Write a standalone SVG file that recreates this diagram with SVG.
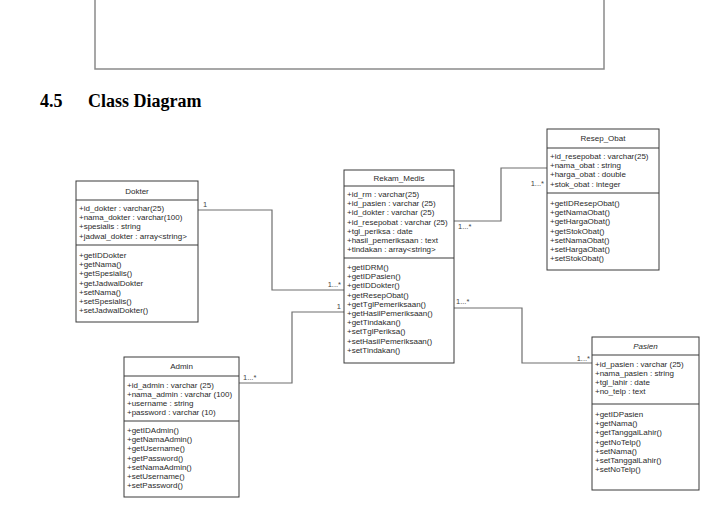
<svg xmlns="http://www.w3.org/2000/svg" width="717" height="522" viewBox="0 0 717 522">
<style>
.box{fill:#fff;stroke:#3a3a3a;stroke-width:1}
.div{stroke:#3a3a3a;stroke-width:1}
.t{font-family:"Liberation Sans",Arial,sans-serif;font-size:8px;fill:#2a2a2a}
.ttl{font-family:"Liberation Sans",Arial,sans-serif;font-size:8px;fill:#2a2a2a;text-anchor:middle}
.lbl{font-family:"Liberation Sans",Arial,sans-serif;font-size:7.5px;fill:#444}
.edge{fill:none;stroke:#6e6e6e;stroke-width:1.2}
.head{font-family:"Liberation Serif","Times New Roman",serif;font-size:18px;font-weight:bold;fill:#000}
</style>
<rect width="717" height="522" fill="#fff"/>
<rect x="95" y="-5" width="509" height="74" fill="none" stroke="#8a8a8a" stroke-width="1.5"/>
<text class="head" x="40" y="107">4.5</text>
<text class="head" x="88" y="107">Class Diagram</text>

<g id="connectors">
<polyline class="edge" points="198,210 272,210 272,290 344,290"/>
<text class="lbl" x="203" y="207">1</text>
<text class="lbl" x="341" y="287" text-anchor="end">1...*</text>
<polyline class="edge" points="239,383 292,383 292,312 344,312"/>
<text class="lbl" x="243" y="380">1...*</text>
<text class="lbl" x="341" y="309" text-anchor="end">1</text>
<polyline class="edge" points="454,221 501,221 501,168 547,168"/>
<text class="lbl" x="458" y="229">1...*</text>
<text class="lbl" x="544" y="186" text-anchor="end">1...*</text>
<polyline class="edge" points="454,308 522,308 522,363 592,363"/>
<text class="lbl" x="456" y="304">1...*</text>
<text class="lbl" x="590" y="361" text-anchor="end">1...*</text>
</g>

<g id="dokter">
<rect class="box" x="76" y="181" width="122" height="141"/>
<text class="ttl" x="137" y="194">Dokter</text>
<line class="div" x1="76" y1="200" x2="198" y2="200"/>
<text class="t" x="79" y="211">+id_dokter : varchar(25)</text>
<text class="t" x="79" y="220.2">+nama_dokter : varchar(100)</text>
<text class="t" x="79" y="229.4">+spesialis : string</text>
<text class="t" x="79" y="238.6">+jadwal_dokter : array&lt;string&gt;</text>
<line class="div" x1="76" y1="245" x2="198" y2="245"/>
<text class="t" x="79" y="258">+getIDDokter</text>
<text class="t" x="79" y="267.2">+getNama()</text>
<text class="t" x="79" y="276.4">+getSpesialis()</text>
<text class="t" x="79" y="285.6">+getJadwalDokter</text>
<text class="t" x="79" y="294.8">+setNama()</text>
<text class="t" x="79" y="304">+setSpesialis()</text>
<text class="t" x="79" y="313.2">+setJadwalDokter()</text>
</g>

<g id="rekam_medis">
<rect class="box" x="344" y="170" width="110" height="193"/>
<text class="ttl" x="399" y="181">Rekam_Medis</text>
<line class="div" x1="344" y1="186" x2="454" y2="186"/>
<text class="t" x="347" y="197">+id_rm : varchar(25)</text>
<text class="t" x="347" y="206.2">+id_pasien : varchar (25)</text>
<text class="t" x="347" y="215.4">+id_dokter : varchar (25)</text>
<text class="t" x="347" y="224.6">+id_resepobat : varchar (25)</text>
<text class="t" x="347" y="233.8">+tgl_periksa : date</text>
<text class="t" x="347" y="243">+hasil_pemeriksaan : text</text>
<text class="t" x="347" y="252.2">+tindakan : array&lt;string&gt;</text>
<line class="div" x1="344" y1="258" x2="454" y2="258"/>
<text class="t" x="347" y="270">+getIDRM()</text>
<text class="t" x="347" y="279.2">+getIDPasien()</text>
<text class="t" x="347" y="288.4">+getIDDokter()</text>
<text class="t" x="347" y="297.6">+getResepObat()</text>
<text class="t" x="347" y="306.8">+getTglPemeriksaan()</text>
<text class="t" x="347" y="316">+getHasilPemeriksaan()</text>
<text class="t" x="347" y="325.2">+getTindakan()</text>
<text class="t" x="347" y="334.4">+setTglPeriksa()</text>
<text class="t" x="347" y="343.6">+setHasilPemeriksaan()</text>
<text class="t" x="347" y="352.8">+setTindakan()</text>
</g>

<g id="resep_obat">
<rect class="box" x="547" y="129" width="112" height="141"/>
<text class="ttl" x="603" y="140.5">Resep_Obat</text>
<line class="div" x1="547" y1="148" x2="659" y2="148"/>
<text class="t" x="550" y="159">+id_resepobat : varchar(25)</text>
<text class="t" x="550" y="168.2">+nama_obat : string</text>
<text class="t" x="550" y="177.4">+harga_obat : double</text>
<text class="t" x="550" y="186.6">+stok_obat : integer</text>
<line class="div" x1="547" y1="193" x2="659" y2="193"/>
<text class="t" x="550" y="206">+getIDResepObat()</text>
<text class="t" x="550" y="215.2">+getNamaObat()</text>
<text class="t" x="550" y="224.4">+getHargaObat()</text>
<text class="t" x="550" y="233.6">+getStokObat()</text>
<text class="t" x="550" y="242.8">+setNamaObat()</text>
<text class="t" x="550" y="252">+setHargaObat()</text>
<text class="t" x="550" y="261.2">+setStokObat()</text>
</g>

<g id="pasien">
<rect class="box" x="592" y="337" width="107" height="153"/>
<text class="ttl" x="645.5" y="348.5" font-style="italic">Pasien</text>
<line class="div" x1="592" y1="355" x2="699" y2="355"/>
<text class="t" x="595" y="366.5">+id_pasien : varchar (25)</text>
<text class="t" x="595" y="375.7">+nama_pasien : string</text>
<text class="t" x="595" y="384.9">+tgl_lahir : date</text>
<text class="t" x="595" y="394.1">+no_telp : text</text>
<line class="div" x1="592" y1="404" x2="699" y2="404"/>
<text class="t" x="595" y="417">+getIDPasien</text>
<text class="t" x="595" y="426.2">+getNama()</text>
<text class="t" x="595" y="435.4">+getTanggalLahir()</text>
<text class="t" x="595" y="444.6">+getNoTelp()</text>
<text class="t" x="595" y="453.8">+setNama()</text>
<text class="t" x="595" y="463">+setTanggalLahir()</text>
<text class="t" x="595" y="472.2">+setNoTelp()</text>
</g>

<g id="admin">
<rect class="box" x="124" y="357" width="115" height="140"/>
<text class="ttl" x="181.5" y="368.5">Admin</text>
<line class="div" x1="124" y1="376" x2="239" y2="376"/>
<text class="t" x="127" y="387.5">+id_admin : varchar (25)</text>
<text class="t" x="127" y="396.7">+nama_admin : varchar (100)</text>
<text class="t" x="127" y="405.9">+username : string</text>
<text class="t" x="127" y="415.1">+password : varchar (10)</text>
<line class="div" x1="124" y1="421" x2="239" y2="421"/>
<text class="t" x="127" y="433">+getIDAdmin()</text>
<text class="t" x="127" y="442.2">+getNamaAdmin()</text>
<text class="t" x="127" y="451.4">+getUsername()</text>
<text class="t" x="127" y="460.6">+getPassword()</text>
<text class="t" x="127" y="469.8">+setNamaAdmin()</text>
<text class="t" x="127" y="479">+setUsername()</text>
<text class="t" x="127" y="488.2">+setPassword()</text>
</g>
</svg>
